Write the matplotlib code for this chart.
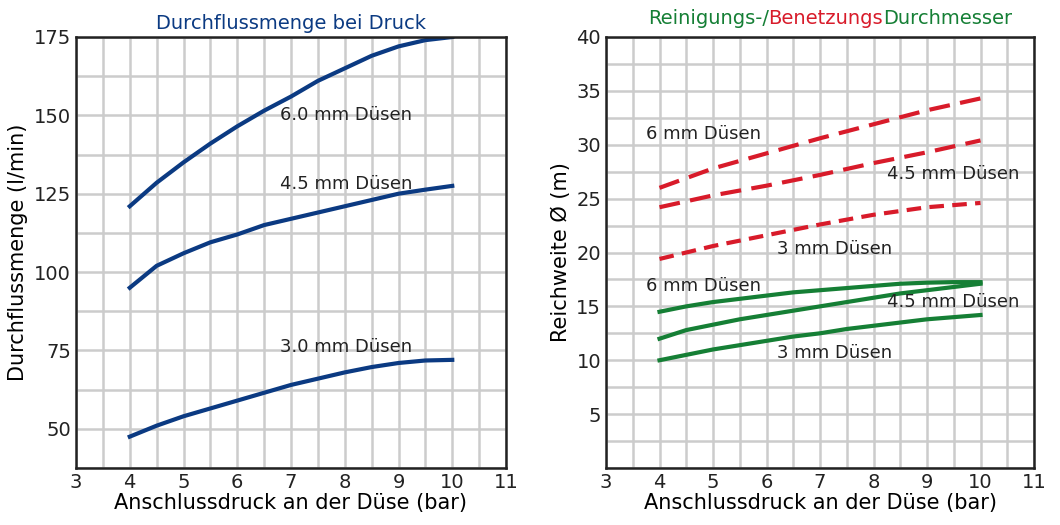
import matplotlib
matplotlib.use("Agg")
import matplotlib.pyplot as plt
from matplotlib.ticker import MultipleLocator

BLUE = "#0b3a82"
RED = "#d81b2a"
GREEN = "#157f35"

# left chart: flow vs pressure
x_flow = [4, 4.5, 5, 5.5, 6, 6.5, 7, 7.5, 8, 8.5, 9, 9.5, 10]
flow_60 = [121, 128.5, 135, 141, 146.5, 151.5, 156, 161, 165, 169, 172, 174, 175]
flow_45 = [95, 102, 106, 109.5, 112, 115, 117, 119, 121, 123, 125, 126.3, 127.5]
flow_30 = [47.5, 51, 54, 56.5, 59, 61.5, 64, 66, 68, 69.7, 71, 71.8, 72]
flow_labels = ["6.0 mm Düsen", "4.5 mm Düsen", "3.0 mm Düsen"]

# right chart: diameter vs pressure
x_reach = [4, 5, 6, 7, 8, 9, 10]
x_clean = [4, 4.5, 5, 5.5, 6, 6.5, 7, 7.5, 8, 8.5, 9, 9.5, 10]
wet_6 = [26, 27.8, 29.2, 30.6, 31.9, 33.2, 34.3]
wet_45 = [24.2, 25.3, 26.2, 27.2, 28.3, 29.3, 30.4]
wet_3 = [19.4, 20.6, 21.6, 22.6, 23.5, 24.2, 24.6]
clean_6 = [14.5, 15.0, 15.4, 15.7, 16.0, 16.3, 16.5, 16.7, 16.9, 17.1, 17.2, 17.25, 17.25]
clean_45 = [12.0, 12.8, 13.3, 13.8, 14.2, 14.6, 15.0, 15.4, 15.8, 16.2, 16.5, 16.8, 17.1]
clean_3 = [10.0, 10.5, 11.0, 11.4, 11.8, 12.2, 12.5, 12.9, 13.2, 13.5, 13.8, 14.0, 14.2]

fig = plt.figure(figsize=(10.6, 5.25), dpi=100)
ax1 = fig.add_axes([76 / 1060, 57 / 525, 430 / 1060, 431 / 525])
ax2 = fig.add_axes([606 / 1060, 57 / 525, 428 / 1060, 431 / 525])


def style(ax, ymin, ymax, ystep, ygrid):
    ax.set_xlim(3, 11)
    ax.set_ylim(ymin, ymax)
    ax.xaxis.set_major_locator(MultipleLocator(1))
    ax.xaxis.set_minor_locator(MultipleLocator(0.5))
    ax.yaxis.set_major_locator(MultipleLocator(ystep))
    ax.yaxis.set_minor_locator(MultipleLocator(ygrid))
    ax.grid(which="both", color="#cccccc", lw=1.8)
    ax.set_axisbelow(True)
    ax.tick_params(which="both", length=0, labelsize=14, colors="#222222")
    for s in ax.spines.values():
        s.set_linewidth(1.8)
        s.set_color("#222222")
    ax.set_xlabel("Anschlussdruck an der Düse (bar)", fontsize=15, labelpad=1)


style(ax1, 37.5, 175, 25, 12.5)
ax1.set_yticks([50, 75, 100, 125, 150, 175])
ax1.set_ylabel("Durchflussmenge (l/min)", fontsize=15)
for ys in (flow_60, flow_45, flow_30):
    ax1.plot(x_flow, ys, color=BLUE, lw=3)
ax1.text(6.8, 150, flow_labels[0], fontsize=13, color="#222222", va="center")
ax1.text(6.8, 128, flow_labels[1], fontsize=13, color="#222222", va="center")
ax1.text(6.8, 76, flow_labels[2], fontsize=13, color="#222222", va="center")
ax1.set_title("Durchflussmenge bei Druck", color=BLUE, fontsize=14, pad=6)

style(ax2, 0, 40, 5, 2.5)
ax2.set_yticks([5, 10, 15, 20, 25, 30, 35, 40])
ax2.set_ylabel("Reichweite Ø (m)", fontsize=15)
ax2.plot(x_reach, wet_6, color=RED, lw=3, dashes=(5, 2.5))
ax2.plot(x_reach, wet_45, color=RED, lw=3, dashes=(5, 2.5))
ax2.plot(x_reach, wet_3, color=RED, lw=3, dashes=(3.5, 2))
for ys in (clean_6, clean_45, clean_3):
    ax2.plot(x_clean, ys, color=GREEN, lw=3)
lab = dict(fontsize=13, color="#222222", va="center")
ax2.text(3.75, 31, "6 mm Düsen", **lab)
ax2.text(8.25, 27.3, "4.5 mm Düsen", **lab)
ax2.text(6.2, 20.3, "3 mm Düsen", **lab)
ax2.text(3.75, 16.9, "6 mm Düsen", **lab)
ax2.text(8.25, 15.4, "4.5 mm Düsen", **lab)
ax2.text(6.2, 10.7, "3 mm Düsen", **lab)

# multi-colour title
parts = [("Reinigungs-/", GREEN), ("Benetzungs", RED), ("Durchmesser", GREEN)]
fig.canvas.draw()
r = fig.canvas.get_renderer()
widths = []
for s, c in parts:
    t = fig.text(0, 0, s, fontsize=14)
    widths.append(t.get_window_extent(r).width)
    t.remove()
x0 = (830 - sum(widths) / 2) / 1060
for (s, c), w in zip(parts, widths):
    fig.text(x0, 1 - 18 / 525, s, fontsize=14, color=c, va="center")
    x0 += w / 1060

fig.savefig("out.png", dpi=100)
